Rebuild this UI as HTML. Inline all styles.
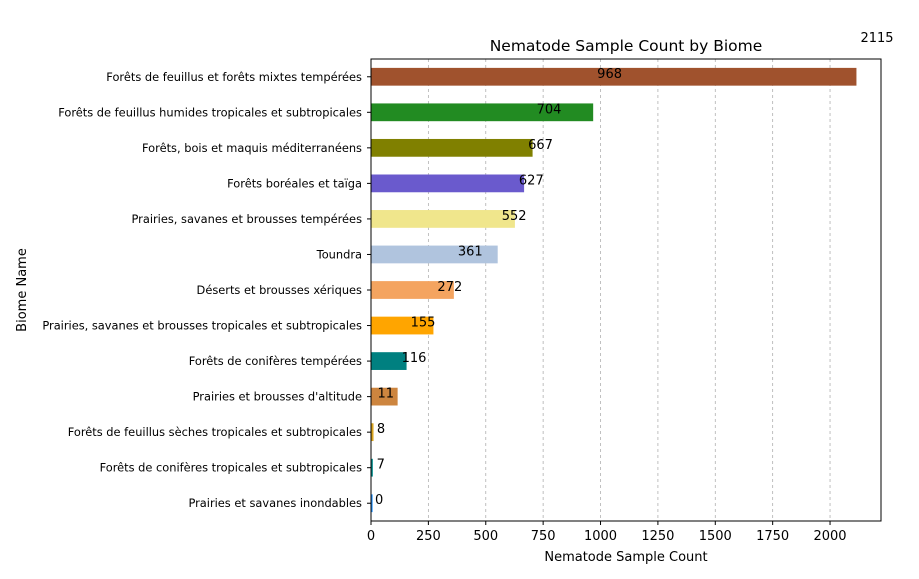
<!DOCTYPE html>
<html><head><meta charset="utf-8"><style>
body{margin:0;background:#fff;font-family:"Liberation Sans","DejaVu Sans",sans-serif}
svg text{font-family:"DejaVu Sans","Liberation Sans",sans-serif}
</style></head><body>
<svg id="c" width="919" height="574" xmlns="http://www.w3.org/2000/svg"></svg>
<script>
const categories=["Forêts de feuillus et forêts mixtes tempérées","Forêts de feuillus humides tropicales et subtropicales","Forêts, bois et maquis méditerranéens","Forêts boréales et taïga","Prairies, savanes et brousses tempérées","Toundra","Déserts et brousses xériques","Prairies, savanes et brousses tropicales et subtropicales","Forêts de conifères tempérées","Prairies et brousses d'altitude","Forêts de feuillus sèches tropicales et subtropicales","Forêts de conifères tropicales et subtropicales","Prairies et savanes inondables"];
const values=[2115,968,704,667,627,552,361,272,155,116,11,8,7];
const labelValues=[2115,968,704,667,627,552,361,272,155,116,11,8,7,0];
const colors=["#a0522d","#228b22","#808000","#6a5acd","#f0e68c","#b0c4de","#f4a460","#ffa500","#008080","#cd853f","#daa520","#008b8b","#1e90ff"];
const ticks=[0,250,500,750,1000,1250,1500,1750,2000];
const svg=document.getElementById('c');const NS="http://www.w3.org/2000/svg";
const L=371,R=881,T=59,B=521,xmax=2222;
const x=v=>L+v/xmax*(R-L);
const rowH=(B-T)/categories.length;
const y=i=>T+rowH*(i+0.5);
function mk(t,a,txt){const e=document.createElementNS(NS,t);for(const k in a)e.setAttribute(k,a[k]);if(txt!==undefined)e.textContent=txt;svg.appendChild(e);return e;}
ticks.forEach(t=>{
const g=mk('line',{x1:x(t),x2:x(t),y1:T,y2:B,stroke:'#b0b0b0','stroke-dasharray':'3,3','stroke-width':0.8});


const tk=mk('line',{x1:x(t),x2:x(t),y1:B,y2:B+4,stroke:'#000'});


const tl=mk('text',{x:x(t),y:B+19,'text-anchor':'middle','font-size':13},t);


});
values.forEach((v,i)=>{
const r=mk('rect',{x:L,y:y(i)-rowH*0.25,width:Math.max(x(v)-L,0),height:rowH*0.5,fill:colors[i]});


const tk=mk('line',{x1:L-4,x2:L,y1:y(i),y2:y(i),stroke:'#000'});


const cl=mk('text',{x:L-9,y:y(i)+4,'text-anchor':'end','font-size':11.4},categories[i]);


});
labelValues.forEach((v,i)=>{
const t=mk('text',{x:x(v)+4,y:y(i-1)+1,'font-size':13},v);


});
const fr=mk('rect',{x:L,y:T,width:R-L,height:B-T,fill:'none',stroke:'#000','stroke-width':1});


const ti=mk('text',{x:(L+R)/2,y:51,'text-anchor':'middle','font-size':15.5},'Nematode Sample Count by Biome');


const xt=mk('text',{x:(L+R)/2,y:561,'text-anchor':'middle','font-size':13},'Nematode Sample Count');


const yt=mk('text',{x:26,y:290,'text-anchor':'middle','font-size':13,transform:'rotate(-90 26 290)'},'Biome Name');


</script>
</body></html>
